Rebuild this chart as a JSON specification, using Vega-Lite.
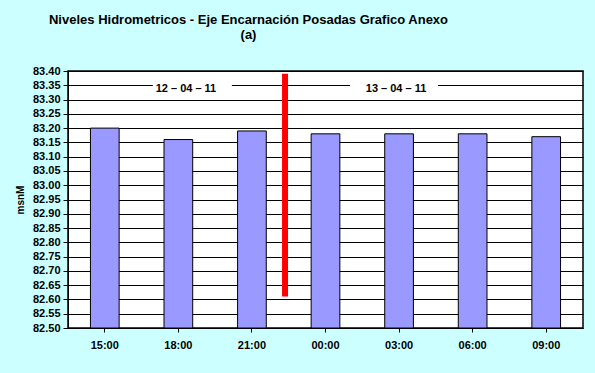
{
  "$schema": "https://vega.github.io/schema/vega-lite/v6.json",
  "width": 515,
  "height": 257,
  "autosize": {"type": "none"},
  "padding": {"left": 68, "top": 71, "right": 12, "bottom": 45},
  "background": "#CCFFFF",
  "title": {
    "text": "Niveles Hidrometricos - Eje Encarnación Posadas Grafico Anexo",
    "subtitle": "(a)",
    "font": "Liberation Sans",
    "fontSize": 13,
    "fontWeight": "bold",
    "color": "#000000",
    "subtitleFont": "Liberation Sans",
    "subtitleFontSize": 13,
    "subtitleFontWeight": "bold",
    "subtitleColor": "#000000",
    "subtitlePadding": 2,
    "anchor": "middle",
    "frame": "group",
    "dx": -77,
    "offset": 23
  },
  "config": {
    "view": {"fill": "#FFFFFF", "stroke": "#000000", "strokeWidth": 1.5},
    "axis": {
      "labelFont": "Liberation Sans",
      "labelFontSize": 11,
      "labelFontWeight": "bold",
      "labelColor": "#000000",
      "titleFont": "Liberation Sans",
      "titleFontSize": 10,
      "titleFontWeight": "bold",
      "titleColor": "#000000",
      "domainColor": "#000000",
      "tickColor": "#000000",
      "gridColor": "#000000",
      "gridOpacity": 1,
      "labelOverlap": false
    }
  },
  "datasets": {
    "niveles": [
      {"hora": "15:00", "nivel": 83.20},
      {"hora": "18:00", "nivel": 83.16},
      {"hora": "21:00", "nivel": 83.19},
      {"hora": "00:00", "nivel": 83.18},
      {"hora": "03:00", "nivel": 83.18},
      {"hora": "06:00", "nivel": 83.18},
      {"hora": "09:00", "nivel": 83.17}
    ],
    "fechas": [
      {"fecha": "12 – 04 – 11", "hora": "18:00", "nivel": 83.338},
      {"fecha": "13 – 04 – 11", "hora": "03:00", "nivel": 83.338}
    ],
    "corte": [
      {"hora": "21:00", "desde": 82.61, "hasta": 83.39}
    ]
  },
  "layer": [
    {
      "data": {"name": "niveles"},
      "mark": {"type": "bar", "width": {"band": 0.39}, "fill": "#9999FF", "stroke": "#000000", "strokeWidth": 1, "clip": true},
      "encoding": {
        "x": {
          "field": "hora",
          "type": "nominal",
          "sort": null,
          "scale": {"domain": ["15:00", "18:00", "21:00", "00:00", "03:00", "06:00", "09:00"], "paddingInner": 0, "paddingOuter": 0},
          "axis": {
            "title": null,
            "labelAngle": 0,
            "tickSize": 4,
            "labelPadding": 7,
            "grid": false,
            "domainWidth": 1
          }
        },
        "y": {
          "field": "nivel",
          "type": "quantitative",
          "scale": {"domain": [82.5, 83.4], "zero": false, "nice": false, "clamp": true},
          "axis": {
            "title": "msnM",
            "tickCount": 18,
            "format": ".2f",
            "tickSize": 5,
            "labelPadding": 3,
            "titlePadding": 7,
            "grid": true,
            "gridWidth": 1,
            "domainWidth": 1
          }
        }
      }
    },
    {
      "data": {"name": "fechas"},
      "transform": [{"filter": "datum.hora === '18:00'"}],
      "mark": {"type": "rect", "width": 79, "height": 9, "fill": "#FFFFFF", "xOffset": 14},
      "encoding": {
        "x": {"field": "hora", "type": "nominal"},
        "y": {"field": "nivel", "type": "quantitative"}
      }
    },
    {
      "data": {"name": "fechas"},
      "transform": [{"filter": "datum.hora === '03:00'"}],
      "mark": {"type": "rect", "width": 88, "height": 9, "fill": "#FFFFFF", "xOffset": -5},
      "encoding": {
        "x": {"field": "hora", "type": "nominal"},
        "y": {"field": "nivel", "type": "quantitative"}
      }
    },
    {
      "data": {"name": "fechas"},
      "transform": [{"filter": "datum.hora === '18:00'"}],
      "mark": {"type": "text", "font": "Liberation Sans", "fontSize": 11, "fontWeight": "bold", "color": "#000000", "xOffset": 7.6},
      "encoding": {
        "x": {"field": "hora", "type": "nominal"},
        "y": {"field": "nivel", "type": "quantitative"},
        "text": {"field": "fecha"}
      }
    },
    {
      "data": {"name": "fechas"},
      "transform": [{"filter": "datum.hora === '03:00'"}],
      "mark": {"type": "text", "font": "Liberation Sans", "fontSize": 11, "fontWeight": "bold", "color": "#000000", "xOffset": -3},
      "encoding": {
        "x": {"field": "hora", "type": "nominal"},
        "y": {"field": "nivel", "type": "quantitative"},
        "text": {"field": "fecha"}
      }
    },
    {
      "data": {"name": "corte"},
      "mark": {"type": "rule", "color": "#FF0000", "strokeWidth": 6},
      "encoding": {
        "x": {"field": "hora", "type": "nominal", "bandPosition": 0.95},
        "y": {"field": "desde", "type": "quantitative"},
        "y2": {"field": "hasta"}
      }
    }
  ]
}
